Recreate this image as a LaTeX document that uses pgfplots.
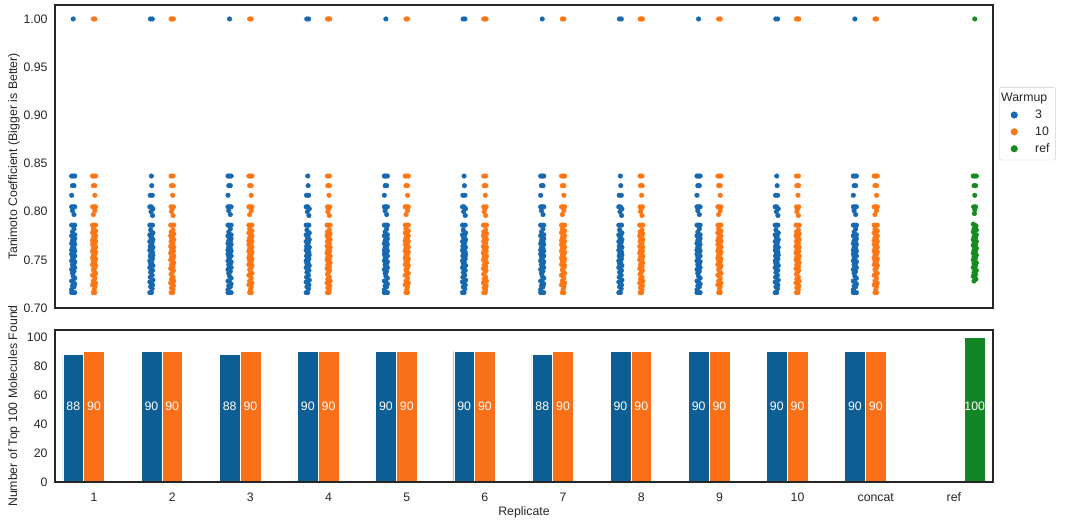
\documentclass[border=0pt]{standalone}
\usepackage{pgfplots}
\pgfplotsset{compat=1.18}
\usepackage{pgfplotstable}
\usepackage{fontspec}
\setmainfont{Liberation Sans}

\definecolor{axc}{HTML}{262626}
\definecolor{p3}{RGB}{22,104,176}
\definecolor{p10}{RGB}{255,118,20}
\definecolor{pref}{RGB}{20,140,30}
\definecolor{b3}{RGB}{12,94,148}
\definecolor{b10}{RGB}{250,112,25}
\definecolor{bref}{RGB}{20,133,38}

% jitter offset (j, in category units) and Tanimoto value (y)
\pgfplotstableread{
j y
0.000 1.000
-0.020 0.837
0.000 0.837
0.020 0.837
-0.010 0.827
0.010 0.827
-0.020 0.817
-0.020 0.805
0.000 0.805
0.020 0.805
-0.010 0.801
0.010 0.797
-0.020 0.786
0.000 0.786
0.020 0.786
0.010 0.782
-0.010 0.779
0.020 0.776
-0.020 0.775
0.000 0.773
0.020 0.772
-0.010 0.770
0.010 0.769
-0.020 0.767
0.020 0.766
0.000 0.765
-0.010 0.763
0.010 0.762
-0.020 0.760
0.020 0.759
0.000 0.758
-0.020 0.756
0.010 0.755
0.020 0.754
-0.010 0.753
0.000 0.751
-0.020 0.749
0.020 0.748
0.010 0.746
-0.010 0.745
0.000 0.743
0.020 0.742
-0.020 0.740
0.010 0.738
-0.010 0.736
0.000 0.733
0.020 0.731
-0.020 0.728
0.000 0.727
0.020 0.725
-0.010 0.723
0.010 0.722
-0.020 0.719
-0.020 0.716
0.000 0.716
0.020 0.716
}\blueA
\pgfplotstableread{
j y
-0.012 1.000
0.012 1.000
0.000 0.837
0.005 0.827
-0.015 0.817
0.012 0.817
-0.020 0.805
0.000 0.805
0.020 0.803
-0.005 0.800
0.015 0.796
-0.020 0.786
0.000 0.786
0.015 0.786
-0.010 0.781
0.020 0.778
-0.020 0.776
0.005 0.775
-0.005 0.773
0.020 0.771
-0.020 0.769
0.010 0.768
0.000 0.766
-0.015 0.764
0.020 0.763
0.005 0.761
-0.020 0.760
0.015 0.758
-0.005 0.757
0.020 0.755
-0.015 0.754
0.000 0.752
0.015 0.751
-0.020 0.749
0.005 0.747
-0.010 0.746
0.020 0.744
-0.020 0.742
0.000 0.740
0.015 0.739
-0.010 0.737
0.010 0.734
-0.015 0.732
0.020 0.729
-0.020 0.727
0.000 0.726
0.015 0.724
-0.010 0.722
0.010 0.720
-0.020 0.716
0.000 0.716
}\blueB
\pgfplotstableread{
j y
-0.010 1.000
0.010 1.000
-0.020 0.837
0.000 0.837
0.020 0.837
-0.010 0.827
0.010 0.827
0.010 0.817
-0.020 0.805
0.000 0.805
0.020 0.805
0.010 0.801
-0.010 0.797
-0.020 0.786
0.000 0.786
0.020 0.786
-0.010 0.782
0.020 0.780
-0.020 0.778
0.000 0.776
0.020 0.775
-0.010 0.773
0.010 0.772
-0.020 0.770
0.020 0.769
0.000 0.768
-0.020 0.766
0.010 0.765
0.020 0.763
-0.010 0.762
0.000 0.761
-0.020 0.759
0.020 0.758
0.010 0.756
-0.010 0.755
0.000 0.753
-0.020 0.752
0.020 0.751
-0.010 0.749
0.010 0.748
0.000 0.746
-0.020 0.745
0.020 0.744
0.010 0.742
-0.010 0.740
0.000 0.738
0.020 0.736
-0.020 0.734
0.010 0.731
-0.010 0.728
0.000 0.727
0.020 0.726
-0.020 0.724
0.010 0.722
0.000 0.719
-0.010 0.716
0.010 0.716
}\orangeA
\pgfplotstableread{
j y
-0.015 1.000
0.000 1.000
0.015 1.000
-0.015 0.837
0.010 0.837
-0.010 0.827
0.012 0.827
0.005 0.817
-0.015 0.805
0.015 0.805
0.000 0.803
-0.010 0.800
0.010 0.796
-0.020 0.786
0.000 0.786
0.020 0.786
0.010 0.781
-0.015 0.779
0.020 0.777
-0.020 0.775
0.005 0.774
-0.005 0.772
0.020 0.771
-0.015 0.769
0.010 0.767
0.000 0.766
-0.020 0.764
0.020 0.763
0.005 0.762
-0.010 0.760
0.015 0.759
-0.020 0.757
0.000 0.756
0.020 0.754
-0.010 0.753
0.010 0.751
-0.020 0.750
0.000 0.748
0.020 0.747
-0.010 0.745
0.010 0.743
-0.020 0.741
0.015 0.739
0.000 0.737
-0.015 0.735
0.010 0.732
-0.010 0.730
0.020 0.728
-0.020 0.726
0.000 0.725
0.015 0.723
-0.010 0.721
0.010 0.719
-0.015 0.716
0.005 0.716
}\orangeB
\pgfplotstableread{
j y
0.000 1.000
-0.020 0.837
0.000 0.837
0.020 0.837
-0.010 0.827
0.010 0.827
0.000 0.817
-0.015 0.805
0.010 0.805
0.000 0.802
-0.005 0.798
-0.020 0.787
0.000 0.786
0.015 0.785
-0.010 0.782
0.020 0.781
-0.020 0.779
0.000 0.777
0.020 0.776
-0.010 0.774
0.010 0.773
-0.020 0.771
0.000 0.770
0.020 0.769
-0.010 0.767
0.010 0.766
-0.020 0.765
0.000 0.763
0.020 0.762
-0.010 0.760
0.010 0.759
-0.020 0.757
0.000 0.756
0.020 0.755
-0.010 0.753
0.010 0.752
-0.020 0.750
0.000 0.749
0.020 0.747
-0.010 0.746
0.010 0.744
-0.020 0.742
0.000 0.741
0.020 0.739
-0.010 0.737
0.010 0.735
-0.020 0.733
0.000 0.732
0.015 0.730
-0.010 0.728
}\greenR

\newcommand\fs{\fontsize{12.3}{14}\selectfont}

\pgfplotsset{
  common/.style={
    scale only axis, width=938pt,
    xmin=-0.5, xmax=11.5,
    axis on top,
    axis line style={draw=axc, line width=1.25pt},
    tick label style={color=axc, font=\fs},
    /pgf/number format/assume math mode=true,
    major tick length=0pt,
    tick style={draw=none},
    yticklabel style={xshift=-4pt},
    every axis y label/.style={at={(rel axis cs:0,0.5)}, xshift=-41pt, rotate=90, anchor=center, color=axc, font=\fs},
    every axis x label/.style={at={(rel axis cs:0.5,0)}, anchor=north, yshift=-21pt, color=axc, font=\fs},
  },
  pt/.style={only marks, mark=*, mark size=2.3pt, mark options={draw=none}, forget plot},
  lbl/.style={draw=none, fill=none, nodes near coords, point meta=explicit symbolic,
    nodes near coords align=center, every node near coord/.append style={text=white, font=\fs}},
  dot/.style={legend image code/.code={\path[draw=none, fill=none] (0pt,-3pt) rectangle (30pt,3pt); \fill[#1] (11pt,0pt) circle (3.3pt);}},
}

\begin{document}
\begin{tikzpicture}
\useasboundingbox (0pt,0pt) rectangle (1080pt,-523pt);

% ---- strip plot ----
\begin{axis}[common,
  at={(55pt,-5pt)}, anchor=north west,
  height=303pt,
  ymin=0.70, ymax=1.0145,
  xtick=\empty,
  ytick={0.70,0.75,0.80,0.85,0.90,0.95,1.00},
  yticklabel style={/pgf/number format/.cd, fixed, fixed zerofill, precision=2},
  ylabel={Tanimoto Coefficient (Bigger is Better)},
  legend style={at={(1.0064,0.729)}, anchor=north west, draw=black!20, rounded corners=2pt,
    font=\fs, text=axc, row sep=2.7pt, inner sep=4pt, nodes={inner sep=2pt}},
  legend cell align=left,
]
\pgfplotsinvokeforeach{0,2,4,6,8,10}{
  \addplot[pt, p3] table[x expr=\thisrow{j}+#1-0.267, y=y]{\blueA};
  \addplot[pt, p10] table[x expr=\thisrow{j}+#1, y=y]{\orangeA};
}
\pgfplotsinvokeforeach{1,3,5,7,9}{
  \addplot[pt, p3] table[x expr=\thisrow{j}+#1-0.267, y=y]{\blueB};
  \addplot[pt, p10] table[x expr=\thisrow{j}+#1, y=y]{\orangeB};
}
\addplot[pt, pref] table[x expr=\thisrow{j}+11.267, y=y]{\greenR};

\addlegendimage{empty legend}
\addlegendentry{\hspace*{-34pt}Warmup}
\addlegendimage{dot=p3}
\addlegendentry{3}
\addlegendimage{dot=p10}
\addlegendentry{10}
\addlegendimage{dot=pref}
\addlegendentry{ref}
\end{axis}

% ---- bar plot ----
\begin{axis}[common,
  at={(55pt,-330pt)}, anchor=north west,
  height=152pt,
  ymin=0, ymax=104.8,
  ytick={0,20,40,60,80,100},
  xtick={0,1,2,3,4,5,6,7,8,9,10,11},
  xticklabels={1,2,3,4,5,6,7,8,9,10,concat,ref},
  xticklabel style={anchor=north, yshift=-7pt, text height=9pt, text depth=2.5pt},
  xlabel={Replicate},
  ylabel={Number of Top 100 Molecules Found},
  ybar, bar width=20.8pt,
]
\addplot[fill=b3, draw=white, line width=0.4pt, bar shift=-20.8pt] coordinates {
  (0,88) (1,90) (2,88) (3,90) (4,90) (5,90) (6,88) (7,90) (8,90) (9,90) (10,90)};
\addplot[fill=b10, draw=white, line width=0.4pt, bar shift=0pt] coordinates {
  (0,90) (1,90) (2,90) (3,90) (4,90) (5,90) (6,90) (7,90) (8,90) (9,90) (10,90)};
\addplot[fill=bref, draw=white, line width=0.4pt, bar shift=20.8pt] coordinates {(11,100)};
% value labels, all set at the same height inside the bars
\addplot[lbl, bar shift=-20.8pt]
  coordinates {(0,52.5)[88] (1,52.5)[90] (2,52.5)[88] (3,52.5)[90] (4,52.5)[90] (5,52.5)[90]
    (6,52.5)[88] (7,52.5)[90] (8,52.5)[90] (9,52.5)[90] (10,52.5)[90]};
\addplot[lbl, bar shift=0pt]
  coordinates {(0,52.5)[90] (1,52.5)[90] (2,52.5)[90] (3,52.5)[90] (4,52.5)[90] (5,52.5)[90]
    (6,52.5)[90] (7,52.5)[90] (8,52.5)[90] (9,52.5)[90] (10,52.5)[90]};
\addplot[lbl, bar shift=20.8pt] coordinates {(11,52.5)[100]};
\end{axis}
\end{tikzpicture}
\end{document}
